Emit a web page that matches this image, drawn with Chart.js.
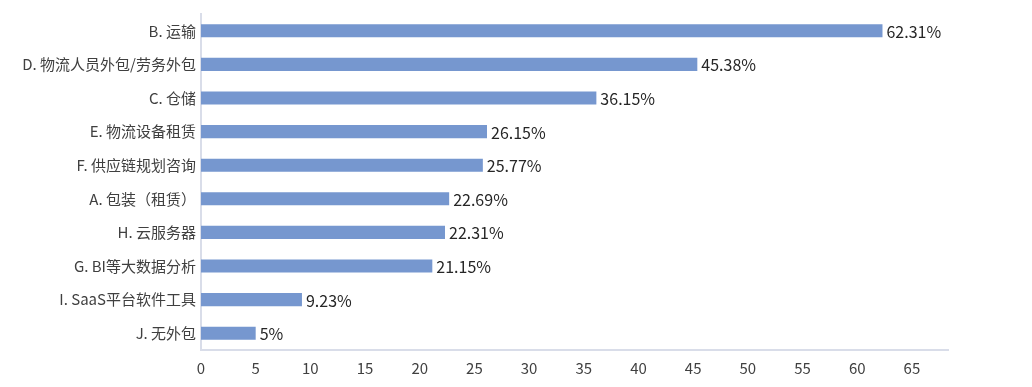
<!DOCTYPE html>
<html>
<head>
<meta charset="utf-8">
<script src="https://cdn.jsdelivr.net/npm/chart.js@4/dist/chart.umd.min.js"></script>
<style>
    html, body { margin: 0; padding: 0; background: #fff; }
    #wrap { width: 1032px; height: 387px; position: relative; }
</style>
</head>
<body>
<div id="wrap"><canvas id="barChart"></canvas></div>
<script>
const categories = [
    'B. 运输',
    'D. 物流人员外包/劳务外包',
    'C. 仓储',
    'E. 物流设备租赁',
    'F. 供应链规划咨询',
    'A. 包装（租赁）',
    'H. 云服务器',
    'G. BI等大数据分析',
    'I. SaaS平台软件工具',
    'J. 无外包'
];
const values = [62.31, 45.38, 36.15, 26.15, 25.77, 22.69, 22.31, 21.15, 9.23, 5];
const valueLabels = ['62.31%', '45.38%', '36.15%', '26.15%', '25.77%', '22.69%', '22.31%', '21.15%', '9.23%', '5%'];
const xTicks = [0, 5, 10, 15, 20, 25, 30, 35, 40, 45, 50, 55, 60, 65];

const fontFamily = '"Noto Sans CJK SC", "Noto Sans", sans-serif';

// draws the percentage text after each bar
const valueLabelPlugin = {
    id: 'valueLabels',
    afterDatasetsDraw(chart) {
        const ctx = chart.ctx;
        const meta = chart.getDatasetMeta(0);
        ctx.save();
        ctx.font = '16px ' + fontFamily;
        ctx.fillStyle = '#262626';
        ctx.textAlign = 'left';
        ctx.textBaseline = 'middle';
        meta.data.forEach((bar, i) => {
            ctx.fillText(valueLabels[i], bar.x + 4, bar.y + 1);
        });
        ctx.restore();
    }
};

document.addEventListener('DOMContentLoaded', function() {
    const ctx = document.getElementById('barChart').getContext('2d');
    new Chart(ctx, {
        type: 'bar',
        data: {
            labels: categories,
            datasets: [{
                data: values,
                backgroundColor: '#7697cf',
                borderWidth: 0,
                barPercentage: 0.78,
                categoryPercentage: 0.5
            }]
        },
        options: {
            indexAxis: 'y',
            responsive: true,
            maintainAspectRatio: false,
            animation: false,
            layout: {
                padding: { top: 11, right: 84, left: 0, bottom: 0 }
            },
            plugins: {
                legend: { display: false },
                tooltip: { enabled: false }
            },
            scales: {
                x: {
                    min: 0,
                    max: 68.3,
                    afterBuildTicks: function(scale) {
                        scale.ticks = xTicks.map(v => ({ value: v }));
                    },
                    afterFit: function(scale) {
                        scale.height = 37;
                    },
                    grid: { display: false, drawTicks: false },
                    border: { display: true, color: '#d9dde9', width: 2 },
                    ticks: {
                        color: '#404040',
                        padding: 9,
                        font: { size: 15, family: fontFamily }
                    }
                },
                y: {
                    afterFit: function(scale) {
                        scale.width = 201;
                    },
                    grid: { display: false, drawTicks: false },
                    border: { display: true, color: '#d9dde9', width: 2 },
                    ticks: {
                        color: '#404040',
                        padding: 5,
                        font: { size: 15, family: fontFamily }
                    }
                }
            }
        },
        plugins: [valueLabelPlugin]
    });
});
</script>
</body>
</html>
